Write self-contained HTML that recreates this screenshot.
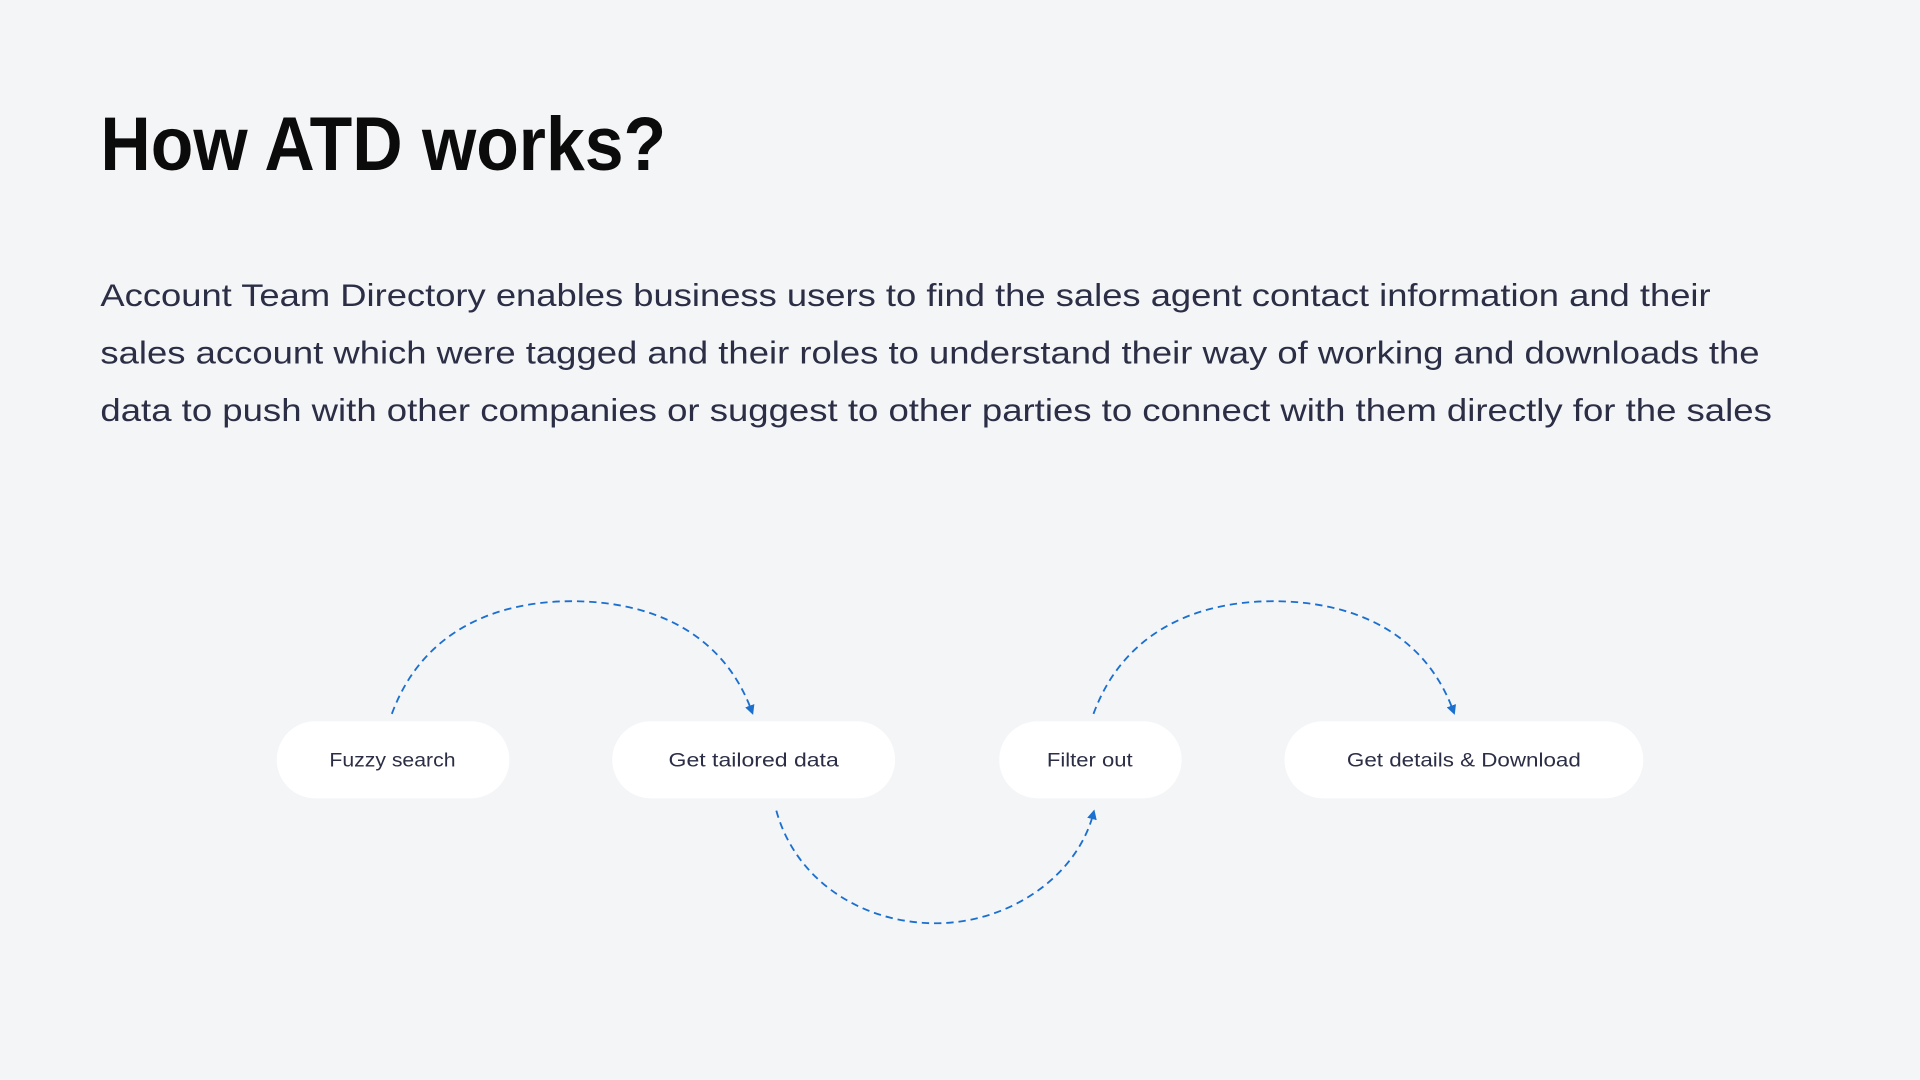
<!DOCTYPE html>
<html><head><meta charset="utf-8"><style>
html,body{margin:0;padding:0;background:#f4f5f7;width:1920px;height:1080px;overflow:hidden}
svg{display:block}
</style></head><body>
<svg width="1920" height="1080" viewBox="0 0 1568 882" xmlns="http://www.w3.org/2000/svg">
<rect width="1568" height="882" fill="#f4f5f7"/>
<text x="82" y="139" font-family="Liberation Sans, sans-serif" font-weight="bold" font-size="62" fill="#0b0b0c" textLength="462" lengthAdjust="spacingAndGlyphs">How ATD works?</text>
<g font-family="Liberation Sans, sans-serif" font-size="26" fill="#2b2e45">
<text x="82" y="250" textLength="1315" lengthAdjust="spacingAndGlyphs">Account Team Directory enables business users to find the sales agent contact information and their</text>
<text x="82" y="297" textLength="1355" lengthAdjust="spacingAndGlyphs">sales account which were tagged and their roles to understand their way of working and downloads the</text>
<text x="82" y="344" textLength="1365" lengthAdjust="spacingAndGlyphs">data to push with other companies or suggest to other parties to connect with them directly for the sales</text>
</g>
<defs><marker id="a" markerWidth="8" markerHeight="8" refX="5" refY="4" orient="auto" markerUnits="userSpaceOnUse"><path d="M0,0 L8,4 L0,8 z" fill="#1a6fcf"/></marker></defs>
<g fill="none" stroke="#1a6fcf" stroke-width="1.5" stroke-dasharray="6,4">
<path d="M320,583 C345,515 405,491 467,491 C530,491 590,515 614,581" marker-end="url(#a)"/>
<path d="M634,662 C650,720 705,754 764,754 C825,754 880,715 893,664" marker-end="url(#a)"/>
<path d="M893,583 C918,515 978,491 1040,491 C1103,491 1163,515 1187,581" marker-end="url(#a)"/>
</g>
<g fill="#ffffff">
<rect x="226" y="589" width="190" height="63" rx="31.5"/>
<rect x="500" y="589" width="231" height="63" rx="31.5"/>
<rect x="816" y="589" width="149" height="63" rx="31.5"/>
<rect x="1049" y="589" width="293" height="63" rx="31.5"/>
</g>
<g font-family="Liberation Sans, sans-serif" font-size="16" fill="#2b2e45">
<text x="269" y="626" textLength="103" lengthAdjust="spacingAndGlyphs">Fuzzy search</text>
<text x="546" y="626" textLength="139" lengthAdjust="spacingAndGlyphs">Get tailored data</text>
<text x="855" y="626" textLength="70" lengthAdjust="spacingAndGlyphs">Filter out</text>
<text x="1100" y="626" textLength="191" lengthAdjust="spacingAndGlyphs">Get details &amp; Download</text>
</g>
</svg>
</body></html>
